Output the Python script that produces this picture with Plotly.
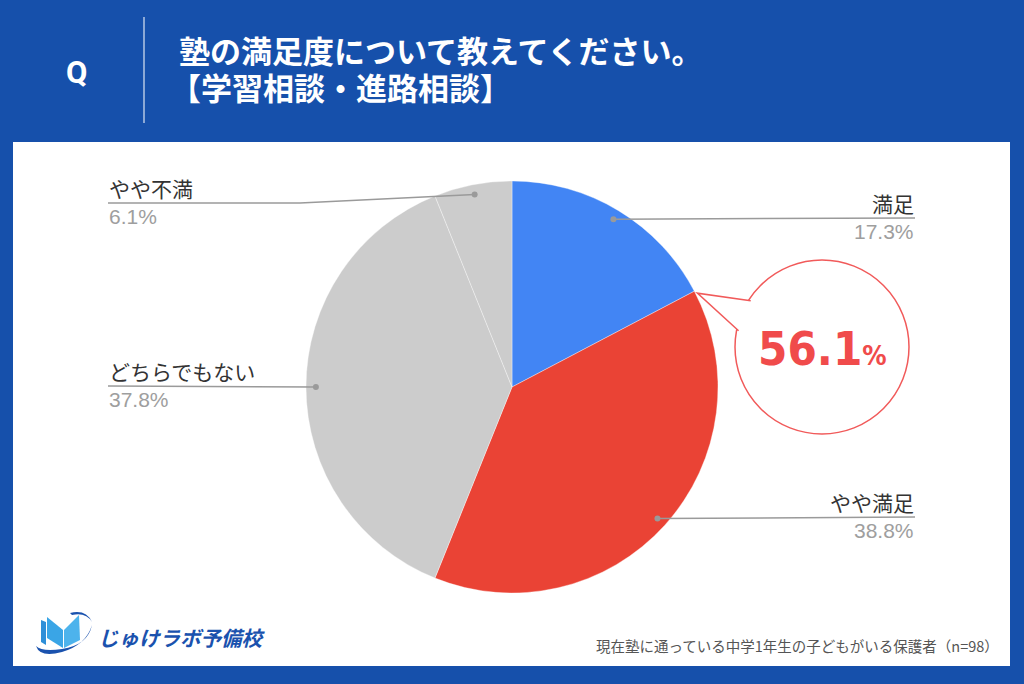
import math
import plotly.graph_objects as go

# ---------------- data ----------------
labels = ["満足", "やや満足", "どちらでもない", "やや不満"]
values = [17.3, 38.8, 37.8, 6.1]
colors = ["#4285F4", "#EA4335", "#CCCCCC", "#CCCCCC"]
title_lines = ["塾の満足度について教えてください。", "【学習相談・進路相談】"]
footer = "現在塾に通っている中学1年生の子どもがいる保護者（n=98）"
brand = "じゅけラボ予備校"

# ---------------- layout constants (pixels) ----------------
W, H = 1024, 684
CX, CY, R = 512, 387, 206
BG = "#1650AB"


def px(x):
    return x / W


def py(y):
    return 1 - y / H


fig = go.Figure()
fig.add_trace(go.Pie(
    labels=labels, values=values, sort=False, direction="clockwise", rotation=0,
    marker=dict(colors=colors, line=dict(color="rgba(255,255,255,0.6)", width=0.6)),
    textinfo="none", hoverinfo="label+percent", showlegend=False,
    domain=dict(x=[px(CX - R), px(CX + R)], y=[py(CY + R), py(CY - R)]),
))

shapes = []
annotations = []

# white panel
shapes.append(dict(type="rect", xref="paper", yref="paper", layer="below",
                   x0=px(13), x1=px(1010), y0=py(666), y1=py(142),
                   fillcolor="white", line=dict(width=0)))
# header divider
shapes.append(dict(type="line", xref="paper", yref="paper",
                   x0=px(144), x1=px(144), y0=py(17), y1=py(123),
                   line=dict(color="rgba(255,255,255,0.85)", width=1.2)))
annotations.append(dict(text="<b>Q</b>", x=px(76), y=py(72), xref="paper", yref="paper",
                        showarrow=False, xanchor="center", yanchor="middle",
                        font=dict(family="Roboto, Liberation Sans", size=31, color="white")))
annotations.append(dict(text="<b>" + title_lines[0] + "</b>",
                        x=px(178), y=py(50), xref="paper", yref="paper", showarrow=False,
                        xanchor="left", yanchor="middle", borderpad=0,
                        font=dict(family="Noto Sans CJK JP", size=31, color="white")))
annotations.append(dict(text="<b>" + title_lines[1] + "</b>",
                        x=px(169), y=py(86), xref="paper", yref="paper", showarrow=False,
                        xanchor="left", yanchor="middle", borderpad=0,
                        font=dict(family="Noto Sans CJK JP", size=31, color="white")))

# leader lines and labels computed from the slice angles
total = sum(values)
line_y = [218, 517, 386, 203]
sides = ["right", "right", "left", "left"]
LEFT_X, RIGHT_X = 108, 915
cum = 0
for i, v in enumerate(values):
    mid = (cum + v / 2) / total * 2 * math.pi
    cum += v
    dx = CX + 0.952 * R * math.sin(mid)
    dy = CY - 0.952 * R * math.cos(mid)
    ly = line_y[i]
    lc = "#9A9A9A"
    if sides[i] == "right":
        shapes.append(dict(type="line", xref="paper", yref="paper",
                           x0=px(dx), x1=px(RIGHT_X), y0=py(dy), y1=py(ly),
                           line=dict(color=lc, width=1.5)))
        tx, anchor = RIGHT_X, "right"
    else:
        if abs(ly - dy) > 3:
            path = f"M {px(dx)} {py(dy)} L {px(300)} {py(ly)} L {px(LEFT_X)} {py(ly)}"
            shapes.append(dict(type="path", xref="paper", yref="paper", path=path,
                               line=dict(color=lc, width=1.5)))
        else:
            shapes.append(dict(type="line", xref="paper", yref="paper",
                               x0=px(dx), x1=px(LEFT_X), y0=py(dy), y1=py(ly),
                               line=dict(color=lc, width=1.5)))
        tx, anchor = LEFT_X, "left"
    shapes.append(dict(type="circle", xref="paper", yref="paper",
                       x0=px(dx - 3), x1=px(dx + 3), y0=py(dy + 3), y1=py(dy - 3),
                       fillcolor=lc, line=dict(width=0)))
    annotations.append(dict(text=labels[i], x=px(tx), y=py(ly - 1), xref="paper", yref="paper",
                            showarrow=False, xanchor=anchor, yanchor="bottom",
                            borderpad=0,
                            font=dict(family="Liberation Sans, Noto Sans CJK JP", size=21,
                                      color="#333333")))
    annotations.append(dict(text=f"{v:.1f}%", x=px(tx), y=py(ly + 1), xref="paper", yref="paper",
                            showarrow=False, xanchor=anchor, yanchor="top",
                            borderpad=0,
                            font=dict(family="Liberation Sans, Arial", size=21,
                                      color="#9E9E9E")))

# callout bubble
BX, BY, BR = 822, 347, 87
RED = "#F15A5A"
shapes.append(dict(type="circle", xref="paper", yref="paper",
                   x0=px(BX - BR), x1=px(BX + BR), y0=py(BY + BR), y1=py(BY - BR),
                   fillcolor="white", line=dict(color=RED, width=1.5)))
a1, a2 = math.radians(213), math.radians(191)
p1 = (BX + (BR - 2) * math.cos(a1), BY + (BR - 2) * math.sin(a1))
p2 = (BX + (BR - 2) * math.cos(a2), BY + (BR - 2) * math.sin(a2))
# tip sits on the slice boundary between the 2nd and 1st slice
b_ang = values[0] / total * 2 * math.pi
tip = (CX + R * math.sin(b_ang) + 3, CY - R * math.cos(b_ang) + 2)
shapes.append(dict(type="path", xref="paper", yref="paper",
                   path=f"M {px(p1[0])} {py(p1[1])} L {px(tip[0])} {py(tip[1])} L {px(p2[0])} {py(p2[1])}",
                   fillcolor="white", line=dict(color=RED, width=1.5)))
sat = values[0] + values[1]
annotations.append(dict(text=f"<b>{sat:.1f}</b><b><span style='font-size:27px'>%</span></b>",
                        x=px(BX), y=py(BY + 1), xref="paper", yref="paper",
                        showarrow=False, xanchor="center", yanchor="middle",
                        font=dict(family="Liberation Sans Narrow, DejaVu Sans Condensed", size=47,
                                  color="#F04B4B")))

# footer text
annotations.append(dict(text=footer, x=px(1001), y=py(645), xref="paper", yref="paper",
                        showarrow=False, xanchor="right", yanchor="middle",
                        font=dict(family="Noto Sans CJK JP", size=14.5, color="#555555")))

# logo (simple vector approximation)
LB = "#3AA5E6"
DB = "#1A52AE"
shapes.append(dict(type="path", xref="paper", yref="paper",
                   path=f"M {px(41)} {py(620)} L {px(46)} {py(622)} L {px(46)} {py(645)} L {px(41)} {py(642)} Z",
                   fillcolor="#2E8FD8", line=dict(width=0)))
shapes.append(dict(type="path", xref="paper", yref="paper",
                   path=f"M {px(47)} {py(617)} L {px(63)} {py(630)} L {px(63)} {py(648)} L {px(47)} {py(638)} Z",
                   fillcolor=LB, line=dict(width=0)))
shapes.append(dict(type="path", xref="paper", yref="paper",
                   path=f"M {px(64)} {py(630)} L {px(79)} {py(615)} L {px(80)} {py(640)} L {px(64)} {py(648)} Z",
                   fillcolor="#4DB3EC", line=dict(width=0)))
shapes.append(dict(type="path", xref="paper", yref="paper",
                   path=(f"M {px(36)} {py(646)} Q {px(40)} {py(658)} {px(62)} {py(652)} "
                         f"Q {px(86)} {py(645)} {px(92)} {py(625)} "
                         f"Q {px(88)} {py(645)} {px(62)} {py(649)} "
                         f"Q {px(42)} {py(652)} {px(36)} {py(646)} Z"),
                   fillcolor=DB, line=dict(width=0)))
shapes.append(dict(type="path", xref="paper", yref="paper",
                   path=(f"M {px(70)} {py(613)} Q {px(86)} {py(609)} {px(92)} {py(622)} "
                         f"Q {px(86)} {py(612)} {px(72)} {py(615)} Z"),
                   fillcolor=DB, line=dict(width=0)))
annotations.append(dict(text=f"<b><i>{brand}</i></b>", x=px(96), y=py(637), xref="paper", yref="paper",
                        showarrow=False, xanchor="left", yanchor="middle",
                        font=dict(family="Noto Sans CJK JP", size=20.5, color=DB)))

fig.update_layout(
    width=W, height=H, margin=dict(l=0, r=0, t=0, b=0),
    paper_bgcolor=BG, plot_bgcolor=BG,
    shapes=shapes, annotations=annotations,
)

fig.write_html("out.html", config={"displayModeBar": False},
               post_script="document.body.style.margin='0';document.body.style.overflow='hidden';")
